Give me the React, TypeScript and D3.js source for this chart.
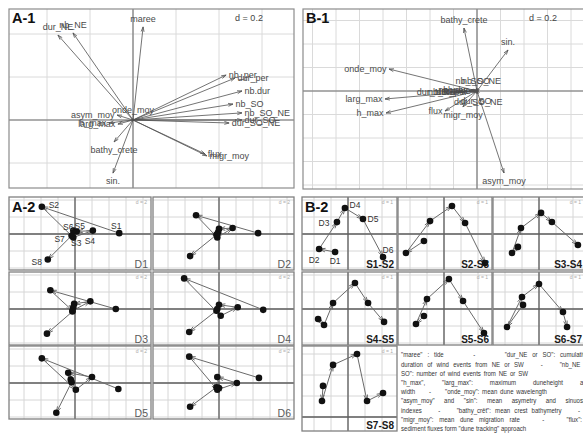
import React from "react";
import * as d3 from "d3";

const FONT = "'Liberation Sans', Arial, sans-serif";

// ---------- A-1 : descriptors on the first factorial plane ----------
const a1Names = ["dur_NE", "nb_NE", "maree", "nb_per", "dur_per", "nb.dur", "nb_SO", "nb_SO_NE", "dur_SO", "dur_SO_NE", "flux", "migr_moy", "sin.", "bathy_crete", "asym_moy", "larg_max", "h_max", "onde_moy"];
const a1X = [-0.349, -0.279, 0.047, 0.433, 0.474, 0.507, 0.465, 0.507, 0.507, 0.447, 0.335, 0.344, -0.093, -0.088, -0.074, -0.07, -0.112, 0.0];
const a1Y = [0.395, 0.405, 0.433, 0.209, 0.195, 0.135, 0.074, 0.033, 0.0, -0.014, -0.158, -0.167, -0.247, -0.102, 0.023, -0.019, -0.014, 0.009];

// ---------- B-1 : descriptors on the first factorial plane ----------
const b1Names = ["bathy_crete", "sin.", "onde_moy", "larg_max", "h_max", "flux", "migr_moy", "asym_moy", "dur_NE", "nb_NE", "nb_per", "dur_per", "nb.dur", "maree", "nb_SO", "dur_SO", "nb_SO_NE", "dur_SO_NE"];
const b1X = [-0.111, 0.264, -0.749, -0.783, -0.774, -0.272, -0.12, 0.23, -0.23, -0.16, -0.07, -0.06, -0.05, -0.03, -0.008, -0.008, 0.01, 0.01];
const b1Y = [0.536, 0.349, 0.187, -0.068, -0.187, -0.17, -0.135, -0.698, -0.008, -0.005, 0.006, -0.004, 0.01, 0.005, 0.017, -0.017, 0.02, -0.02];

// ---------- A-2 : site trajectories (S1..S8), one panel per date ----------
const a2Sites = ["S1", "S2", "S3", "S4", "S5", "S6", "S7", "S8"];
const a2Dates = ["D1", "D2", "D3", "D4", "D5", "D6"];
const a2D1: [number, number][] = [[5.2, 0.1], [-3.9, 3.2], [-0.2, -0.4], [2.1, 0.4], [0.2, 0.3], [-0.2, 0.4], [-0.4, -0.2], [-3.2, -3.0]];
const a2D2: [number, number][] = [[4.6, 0.1], [-2.7, 2.2], [-0.2, -0.4], [1.6, 0.7], [0.0, 0.6], [-0.1, 0.2], [-0.3, -0.1], [-3.4, -2.6]];
const a2D3: [number, number][] = [[4.8, 0.0], [-2.9, 2.2], [-0.3, -0.2], [1.8, 0.9], [-0.1, 0.6], [-0.2, 0.2], [-0.3, -0.3], [-3.3, -2.9]];
const a2D4: [number, number][] = [[5.2, -0.1], [-4.1, 3.6], [0.2, -0.8], [2.2, 0.2], [0.0, 0.5], [-0.2, 0.0], [-0.3, -0.2], [-3.5, -2.7]];
const a2D5: [number, number][] = [[5.1, -0.7], [-3.9, 2.9], [0.1, -0.8], [2.0, 0.7], [-0.8, 1.2], [-0.5, 0.4], [-0.4, 0.1], [-2.2, -3.5]];
const a2D6: [number, number][] = [[4.7, 0.6], [-3.5, 3.1], [-0.2, -0.8], [2.1, 0.0], [-0.2, 0.7], [0.0, -0.6], [-0.3, -0.5], [-3.4, -2.8]];
const a2Series = [a2D1, a2D2, a2D3, a2D4, a2D5, a2D6];

// ---------- B-2 : date trajectories (D1..D6), one panel per site pair ----------
const b2Dates = ["D1", "D2", "D3", "D4", "D5", "D6"];
const b2Pairs = ["S1-S2", "S2-S3", "S3-S4", "S4-S5", "S5-S6", "S6-S7", "S7-S8"];
const b2S12: [number, number][] = [[-0.76, -1.06], [-1.7, -0.88], [-0.65, 0.7], [-0.18, 1.53], [0.88, 0.88], [2.06, -1.35]];
const b2S23: [number, number][] = [[-1.18, -0.41], [-2.24, -1.12], [-0.82, 0.76], [0.47, 1.65], [1.24, 0.65], [2.41, -1.71]];
const b2S34: [number, number][] = [[-1.24, -0.76], [-1.59, -1.12], [-1.06, 0.35], [0.12, 1.24], [0.76, 0.71], [2.29, -0.65]];
const b2S45: [number, number][] = [[-1.76, -0.59], [-1.41, -0.94], [-0.88, 0.35], [0.41, 1.53], [1.18, 0.35], [2.12, -0.76]];
const b2S56: [number, number][] = [[-1.18, -0.41], [-1.65, -0.88], [-1.0, 0.59], [0.29, 1.76], [1.12, 0.47], [2.35, -1.41]];
const b2S67: [number, number][] = [[-0.94, 0.24], [-1.88, -1.06], [-1.0, 0.71], [0.0, 1.47], [1.41, -0.18], [1.65, -1.06]];
const b2S78: [number, number][] = [[-1.47, 1.48], [-1.53, 0.76], [-0.88, 2.48], [0.53, 3.0], [1.12, 0.76], [2.06, 1.14]];
const b2Series = [b2S12, b2S23, b2S34, b2S45, b2S56, b2S67, b2S78];

// ---------- caption ----------
const captionLines = [
  "\"maree\" : tide      -      \"dur_NE or SO\": cumulative",
  "duration of wind events from NE or SW    -    \"nb_NE or",
  "SO\": number of wind events from NE or SW",
  "\"h_max\", \"larg_max\": maximum duneheight and",
  "width     -     \"onde_moy\": mean dune wavelength",
  "\"asym_moy\" and \"sin\": mean asymetry and sinuosity",
  "indexes    -    \"bathy_crêt\": mean crest bathymetry    -",
  "\"migr_moy\": mean dune migration rate    -    \"flux\":",
  "sediment fluxes form \"dune tracking\" approach",
];
// right end of each set line (0 = natural width)
const captionEnds = [589, 590, 528, 590, 547, 589, 580, 582, 0];
const CAPTION_LEFT = 401;
const CAPTION_FS = 7.4;
const CAPTION_SQUEEZE = 0.82;

// label placement for the annotated first panels
const a2LabelShift: [number, number][] = [[-3, -7], [12, -2], [3, 6], [-3, 10], [3, -5], [-5, -4], [-12, 3], [-11, 3]];
const b2LabelShift: [number, number][] = [[0, 9], [-5, 11], [-13, 1], [10, -3], [10, 0], [5, -7]];

type Box = { x: number; y: number; w: number; h: number };

let measureCtx: CanvasRenderingContext2D | null = null;
function textWidth(s: string, size: number) {
  if (!measureCtx) measureCtx = document.createElement("canvas").getContext("2d");
  if (!measureCtx) return s.length * size * 0.5;
  measureCtx.font = `${size}px 'Liberation Sans', Arial, sans-serif`;
  return measureCtx.measureText(s).width;
}

function gridValues(domain: number[], step: number) {
  const lo = Math.ceil(Math.min(domain[0], domain[1]) / step - 1e-9);
  const hi = Math.floor(Math.max(domain[0], domain[1]) / step + 1e-9);
  return d3.range(lo, hi + 1).map((i) => i * step);
}

function headPath(x1: number, y1: number, x2: number, y2: number, len: number, ang: number) {
  const a = Math.atan2(y2 - y1, x2 - x1);
  const p1 = [x2 - len * Math.cos(a - ang), y2 - len * Math.sin(a - ang)];
  const p2 = [x2 - len * Math.cos(a + ang), y2 - len * Math.sin(a + ang)];
  return `M${p1[0]},${p1[1]}L${x2},${y2}L${p2[0]},${p2[1]}`;
}

function Biplot(props: {
  id: string; box: Box; origin: [number, number]; k: number; step: number;
  names: string[]; xs: number[]; ys: number[]; title: string; dText: string; dX: number;
}) {
  const { id, box, origin, k, step, names, xs, ys, title, dText, dX } = props;
  const x = d3.scaleLinear().domain([(box.x - origin[0]) / k, (box.x + box.w - origin[0]) / k]).range([box.x, box.x + box.w]);
  const y = d3.scaleLinear().domain([(origin[1] - box.y - box.h) / k, (origin[1] - box.y) / k]).range([box.y + box.h, box.y]);
  const gx = gridValues(x.domain(), step);
  const gy = gridValues(y.domain(), step);
  const fs = 9;
  const pad = 2.6;
  const off = 8;
  return (
    <g>
      <clipPath id={id}>
        <rect x={box.x} y={box.y} width={box.w} height={box.h} />
      </clipPath>
      <rect x={box.x} y={box.y} width={box.w} height={box.h} fill="#fff" />
      <g clipPath={`url(#${id})`}>
        {gx.map((v) => (
          <line key={"gx" + v} x1={x(v)} x2={x(v)} y1={box.y} y2={box.y + box.h} stroke="#dadada" strokeWidth={1} />
        ))}
        {gy.map((v) => (
          <line key={"gy" + v} y1={y(v)} y2={y(v)} x1={box.x} x2={box.x + box.w} stroke="#dadada" strokeWidth={1} />
        ))}
        <line x1={x(0)} x2={x(0)} y1={box.y} y2={box.y + box.h} stroke="#6f6f6f" strokeWidth={1.1} />
        <line y1={y(0)} y2={y(0)} x1={box.x} x2={box.x + box.w} stroke="#6f6f6f" strokeWidth={1.1} />
        {names.map((n, i) => {
          const x2 = x(xs[i]), y2 = y(ys[i]);
          const x1 = x(0), y1 = y(0);
          const long = Math.hypot(x2 - x1, y2 - y1) > 2;
          return (
            <g key={"v" + n} stroke="#505050" strokeWidth={0.8} fill="none">
              <line x1={x1} y1={y1} x2={x2} y2={y2} />
              {long && <path d={headPath(x1, y1, x2, y2, 5, 0.3)} />}
            </g>
          );
        })}
        {names.map((n, i) => {
          const xr = xs[i], yr = ys[i];
          const tx = x(xr), ty = y(yr);
          let lx = tx, ly = ty, anchor = "middle";
          if (xr > yr && xr > -yr) { lx = tx + pad; anchor = "start"; }
          else if (xr > yr && xr <= -yr) { ly = ty + off; }
          else if (xr <= yr && xr <= -yr) { lx = tx - pad; anchor = "end"; }
          else { ly = ty - off; }
          return (
            <text key={"l" + n} x={lx} y={ly} dy="0.35em" textAnchor={anchor} fontSize={fs} fill="#4a4a4a" fontFamily={FONT}>
              {n}
            </text>
          );
        })}
        <text x={box.x + 3} y={box.y + 14} fontSize={14.5} fontWeight="bold" fill="#111" fontFamily={FONT}>{title}</text>
        <text x={dX} y={box.y + 12} fontSize={9} fill="#444" fontFamily={FONT} textAnchor="middle">{dText}</text>
      </g>
      <rect x={box.x} y={box.y} width={box.w} height={box.h} fill="none" stroke="#8c8c8c" strokeWidth={1.2} />
    </g>
  );
}

function TrajPanel(props: {
  id: string; box: Box; ax: number; ay: number; kx: number; ky: number; step: number;
  pts: [number, number][]; names?: string[]; shifts?: [number, number][];
  corner: string; bold: boolean; dText: string; title?: string;
}) {
  const { id, box, ax, ay, kx, ky, step, pts, names, shifts, corner, bold, dText, title } = props;
  const x = d3.scaleLinear().domain([-ax / kx, (box.w - ax) / kx]).range([box.x, box.x + box.w]);
  const y = d3.scaleLinear().domain([-(box.h - ay) / ky, ay / ky]).range([box.y + box.h, box.y]);
  const gx = gridValues(x.domain(), step);
  const gy = gridValues(y.domain(), step);
  const P = pts.map(([a, b]) => [x(a), y(b)]);
  return (
    <g>
      <clipPath id={id}>
        <rect x={box.x} y={box.y} width={box.w} height={box.h} />
      </clipPath>
      <rect x={box.x} y={box.y} width={box.w} height={box.h} fill="#fff" />
      <g clipPath={`url(#${id})`}>
        {gx.map((v) => (
          <line key={"gx" + v} x1={x(v)} x2={x(v)} y1={box.y} y2={box.y + box.h} stroke="#d6d6d6" strokeWidth={1} />
        ))}
        {gy.map((v) => (
          <line key={"gy" + v} y1={y(v)} y2={y(v)} x1={box.x} x2={box.x + box.w} stroke="#d6d6d6" strokeWidth={1} />
        ))}
        <line x1={x(0)} x2={x(0)} y1={box.y} y2={box.y + box.h} stroke="#5c5c5c" strokeWidth={1.3} />
        <line y1={y(0)} y2={y(0)} x1={box.x} x2={box.x + box.w} stroke="#5c5c5c" strokeWidth={1.3} />
        <text x={box.x + box.w - 4} y={box.y + 7} fontSize={5} fill="#aaa" textAnchor="end" fontFamily={FONT}>{dText}</text>
        {title && (
          <text x={box.x + 3} y={box.y + 15} fontSize={14.5} fontWeight="bold" fill="#111" fontFamily={FONT}>{title}</text>
        )}
        {P.slice(1).map((p, i) => {
          const q = P[i];
          return (
            <g key={"s" + i} stroke="#6a6a6a" strokeWidth={1} fill="none">
              <line x1={q[0]} y1={q[1]} x2={p[0]} y2={p[1]} />
              <path d={headPath(q[0], q[1], p[0], p[1], 6.5, 0.28)} />
            </g>
          );
        })}
        {P.map((p, i) => (
          <circle key={"p" + i} cx={p[0]} cy={p[1]} r={3.3} fill="#111" />
        ))}
        {names && shifts && names.map((n, i) => (
          <text key={"n" + n} x={P[i][0] + shifts[i][0]} y={P[i][1] + shifts[i][1]} dy="0.35em" textAnchor="middle"
            fontSize={8.5} fill="#333" fontFamily={FONT}>{n}</text>
        ))}
        <text x={box.x + box.w - 3} y={box.y + box.h - 2.5} textAnchor="end" fontSize={bold ? 10 : 10.5}
          fontWeight={bold ? "bold" : "normal"} fill={bold ? "#1a1a1a" : "#5a5a5a"} fontFamily={FONT}>{corner}</text>
      </g>
      <rect x={box.x} y={box.y} width={box.w} height={box.h} fill="none" stroke="#808080" strokeWidth={1.3} />
    </g>
  );
}

// Caption block set word by word; set lines spread their spaces to reach their right end.
function Caption() {
  const spaceW = textWidth(" ", CAPTION_FS);
  return (
    <g transform={`translate(${CAPTION_LEFT},0) scale(${CAPTION_SQUEEZE},1)`} fontFamily={FONT} fontSize={CAPTION_FS} fill="#333">
      {captionLines.map((line, li) => {
        const parts = line.split(/( +)/).filter((p) => p.length > 0);
        const words = parts.filter((p) => p.trim().length > 0);
        const spaceCount = parts.filter((p) => p.trim().length === 0).reduce((s, p) => s + p.length, 0);
        const natural = words.reduce((s, w) => s + textWidth(w, CAPTION_FS), 0) + spaceCount * spaceW;
        const end = captionEnds[li];
        const target = end > 0 ? (end - CAPTION_LEFT) / CAPTION_SQUEEZE : natural;
        const unit = spaceCount > 0 ? Math.max(spaceW * 0.6, spaceW + (target - natural) / spaceCount) : spaceW;
        let cx = 0;
        const placed: { w: string; x: number }[] = [];
        parts.forEach((p) => {
          if (p.trim().length === 0) cx += p.length * unit;
          else { placed.push({ w: p, x: cx }); cx += textWidth(p, CAPTION_FS); }
        });
        const yy = 357.5 + li * 9.2;
        return (
          <g key={"c" + li}>
            {placed.map((pw, wi) => (
              <text key={wi} x={pw.x} y={yy}>{pw.w}</text>
            ))}
          </g>
        );
      })}
    </g>
  );
}

export default function App() {
  const a2Cols = [9, 153];
  const a2Rows = [197, 272, 346];
  const b2Cols = [302, 398, 493];
  const b2Rows = [197, 272, 346];
  const b2Widths = [95, 94, 92];
  return (
    <div style={{ position: "absolute", left: 0, top: 0 }}>
      <svg width={583} height={437} viewBox="0 0 583 437" style={{ display: "block", background: "#fff" }}>
        <Biplot id="cA1" box={{ x: 9, y: 9, w: 285, h: 179 }} origin={[133, 120]} k={215} step={0.2}
          names={a1Names} xs={a1X} ys={a1Y} title="A-1" dText="d = 0.2" dX={249} />
        <Biplot id="cB1" box={{ x: 303, y: 9, w: 290, h: 180 }} origin={[477, 91]} k={117.5} step={0.2}
          names={b1Names} xs={b1X} ys={b1Y} title="B-1" dText="d = 0.2" dX={543} />

        {a2Series.map((pts, i) => {
          const col = i % 2, row = Math.floor(i / 2);
          return (
            <TrajPanel key={"a2" + i} id={"cA2" + i}
              box={{ x: a2Cols[col], y: a2Rows[row], w: col === 0 ? 142 : 141, h: 73 }}
              ax={66} ay={37} kx={8.5} ky={8.5} step={2} pts={pts}
              names={i === 0 ? a2Sites : undefined} shifts={i === 0 ? a2LabelShift : undefined}
              corner={a2Dates[i]} bold={false} dText="d = 2" title={i === 0 ? "A-2" : undefined} />
          );
        })}

        {b2Series.map((pts, i) => {
          const col = i % 3, row = Math.floor(i / 3);
          const last = i === 6;
          return (
            <TrajPanel key={"b2" + i} id={"cB2" + i}
              box={{ x: b2Cols[col], y: b2Rows[row], w: b2Widths[col], h: last ? 85 : 73 }}
              ax={46} ay={last ? 71 : 37} kx={17} ky={last ? 21 : 17} step={1} pts={pts}
              names={i === 0 ? b2Dates : undefined} shifts={i === 0 ? b2LabelShift : undefined}
              corner={b2Pairs[i]} bold={true} dText="d = 1" title={i === 0 ? "B-2" : undefined} />
          );
        })}

        <Caption />
      </svg>
    </div>
  );
}
